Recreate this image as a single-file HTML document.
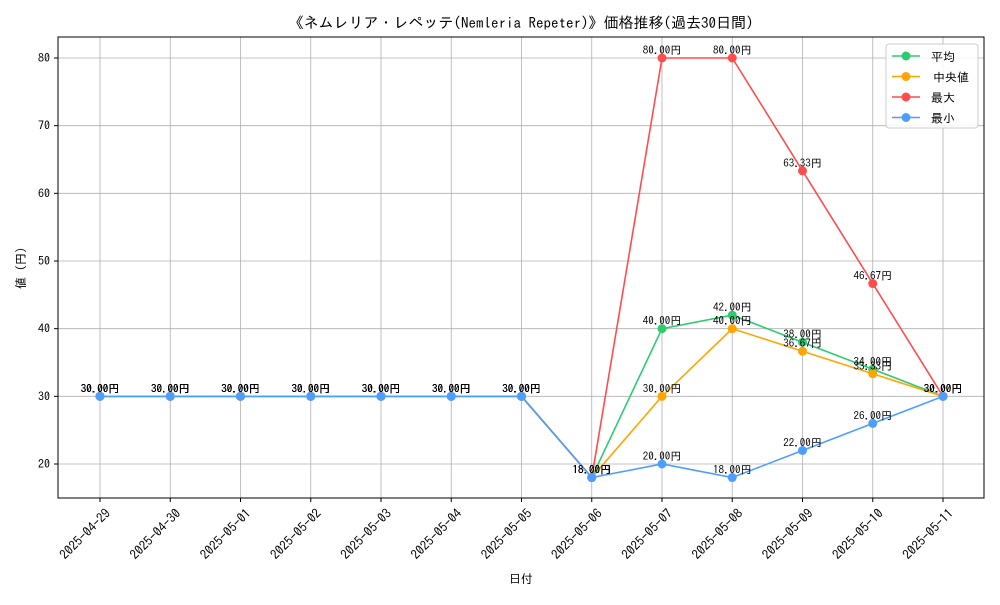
<!DOCTYPE html>
<html><head><meta charset="utf-8"><style>
body{margin:0;background:#fff;}
svg text{font-family:"IPAGothic","Liberation Sans","Noto Sans CJK JP",sans-serif;}
</style></head><body>
<svg id="c" width="1000" height="600" xmlns="http://www.w3.org/2000/svg">
<rect x="0" y="0" width="1000" height="600" fill="#fff"/>
<g id="grid"></g>
<rect x="58" y="37" width="926" height="461" fill="none" stroke="#000" stroke-width="1"/>
<g id="axes"></g>
<g id="series"></g>
<text x="521" y="28" font-size="15" text-anchor="middle">《ネムレリア・レペッテ(Nemleria Repeter)》価格推移(過去30日間)</text>
<text x="521" y="583" font-size="12" text-anchor="middle">日付</text>
<text x="25" y="268" font-size="12" text-anchor="middle" transform="rotate(-90 25 268)">値 (円)</text>
<g id="legend"></g>
</svg>
<script>
const dates=["2025-04-29","2025-04-30","2025-05-01","2025-05-02","2025-05-03","2025-05-04","2025-05-05","2025-05-06","2025-05-07","2025-05-08","2025-05-09","2025-05-10","2025-05-11"];
const avgVals=[30,30,30,30,30,30,30,18,40,42,38,34,30];
const medVals=[30,30,30,30,30,30,30,18,30,40,36.67,33.33,30];
const maxVals=[30,30,30,30,30,30,30,18,80,80,63.33,46.67,30];
const minVals=[30,30,30,30,30,30,30,18,20,18,22,26,30];
const yTicks=[20,30,40,50,60,70,80];
const seriesNames=["平均","中央値","最大","最小"];
const NS="http://www.w3.org/2000/svg";
function xs(i){return 100+i*(943-100)/(dates.length-1);}
function ys(v){return 464-(v-20)*(464-58)/60;}
function mk(tag,attrs,parent){const e=document.createElementNS(NS,tag);for(const k in attrs)e.setAttribute(k,attrs[k]);parent.appendChild(e);return e;}
const grid=document.getElementById('grid'),axes=document.getElementById('axes'),ser=document.getElementById('series'),leg=document.getElementById('legend');
dates.forEach((d,i)=>{
 const g=mk('line',{x1:xs(i),x2:xs(i),y1:37,y2:498,stroke:'#b0b0b0','stroke-width':0.8},grid);
 
 
 const t=mk('line',{x1:xs(i),x2:xs(i),y1:498,y2:502,stroke:'#000'},axes);
 
 
 const tx=xs(i)+5,ty=508;
 const l=mk('text',{x:tx,y:ty,'font-size':13,'text-anchor':'end',transform:`rotate(-45 ${tx} ${ty})`,'dominant-baseline':'hanging'},axes);
 l.textContent=d;
 
 
});
yTicks.forEach(v=>{
 const g=mk('line',{x1:58,x2:984,y1:ys(v),y2:ys(v),stroke:'#b0b0b0','stroke-width':0.8},grid);
 
 
 const t=mk('line',{x1:54,x2:58,y1:ys(v),y2:ys(v),stroke:'#000'},axes);
 
 
 const l=mk('text',{x:50,y:ys(v)+4,'font-size':12,'text-anchor':'end'},axes);
 l.textContent=v;
 
 
});
const series=[[avgVals,'#2ecc71'],[medVals,'#ffa500'],[maxVals,'#ff4d4d'],[minVals,'#4d9fff']];
series.forEach(([vals,col],si)=>{
 const g=mk('g',{},ser);
 
 
 const p=mk('polyline',{points:vals.map((v,i)=>xs(i)+','+ys(v)).join(' '),fill:'none',stroke:col,'stroke-width':1.6},g);
 
 
 vals.forEach((v,i)=>{
  const c=mk('circle',{cx:xs(i),cy:ys(v),r:4.5,fill:col},g);
  
  
  const t=mk('text',{x:xs(i),y:ys(v)-4,'font-size':11,'text-anchor':'middle'},g);
  t.textContent=v.toFixed(2)+'円';
  
  
 });
});
mk('rect',{x:886,y:44,width:92,height:84,rx:3,fill:'#fff','fill-opacity':0.85,stroke:'#ccc'},leg);
series.forEach(([v,col],i)=>{
 const y=56+i*20.5;
 const e=mk('g',{},leg);
 
 
 mk('line',{x1:892,x2:920,y1:y,y2:y,stroke:col,'stroke-width':1.6},e);
 mk('circle',{cx:906,cy:y,r:4.5,fill:col},e);
 const t=mk('text',{x:i==1?933:931,y:y+5,'font-size':12},e);
 t.textContent=seriesNames[i];
});
</script>
</body></html>
